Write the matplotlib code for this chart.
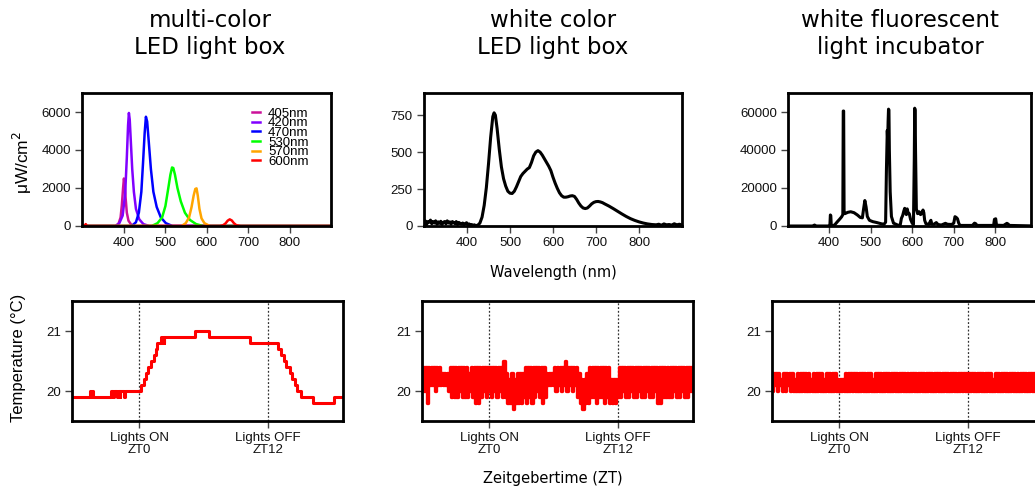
import numpy as np
import matplotlib.pyplot as plt

plt.rcParams['font.family'] = ['Liberation Sans', 'DejaVu Sans']

# ---- spectra (wavelength nm, intensity uW/cm2) ----
led_names = ["405nm", "420nm", "470nm", "530nm", "570nm", "600nm"]
led_colors = ["#CC1199", "#8000FF", "#0000FF", "#00FF00", "#FFA500", "#FF0000"]

led_wl = [
    [300, 380, 388, 393, 396, 399, 401, 403, 405, 408, 412, 418, 425, 900],
    [300, 382, 390, 398, 404, 408, 411, 413, 415, 418, 421, 425, 430, 438, 448, 462, 900],
    [300, 420, 430, 437, 443, 447, 451, 454, 457, 461, 466, 472, 480, 490, 502, 518, 900],
    [300, 468, 482, 493, 501, 508, 513, 517, 520, 524, 530, 538, 548, 560, 575, 592, 900],
    [300, 540, 550, 558, 564, 569, 573, 576, 579, 583, 588, 595, 608, 900],
    [300, 306, 309, 312, 632, 640, 646, 651, 656, 661, 666, 672, 682, 900],
]
led_val = [
    [0, 0, 120, 450, 1100, 2000, 2500, 2200, 1500, 700, 280, 90, 0, 0],
    [0, 0, 150, 550, 1700, 3600, 5300, 5950, 5600, 4300, 3000, 1800, 900, 350, 100, 0, 0],
    [0, 0, 200, 700, 1800, 3300, 4900, 5750, 5500, 4400, 3000, 1800, 1000, 450, 150, 0, 0],
    [0, 0, 150, 450, 1050, 2000, 2700, 3080, 3050, 2700, 2000, 1300, 700, 320, 100, 0, 0],
    [0, 0, 150, 450, 1000, 1600, 1950, 1980, 1600, 900, 400, 150, 0, 0],
    [0, 0, 100, 0, 0, 40, 140, 280, 350, 290, 150, 40, 0, 0],
]

white_wl = [300, 303, 306, 309, 312, 315, 318, 321, 324, 327, 330, 333, 336, 339, 342,
            345, 348, 351, 354, 357, 360, 363, 366, 369, 372, 375, 378, 381, 384, 387,
            390, 393, 396, 399, 402, 405, 408, 411, 414, 417, 420, 425, 430, 435, 440,
            445, 450, 455, 460, 463, 466, 470, 475, 480, 485, 490, 495, 500, 505, 510,
            515, 520, 525, 530, 535, 540, 545, 550, 555, 560, 565, 570, 575, 580, 585,
            590, 595, 600, 605, 610, 615, 620, 625, 630, 635, 640, 645, 650, 655, 660,
            665, 670, 675, 680, 685, 690, 695, 700, 705, 710, 715, 720, 730, 740, 750,
            760, 770, 780, 790, 800, 810, 820, 830, 840, 846, 852, 858, 864, 870, 876,
            882, 888, 894, 900]
white_val = [20, 35, 10, 30, 25, 40, 15, 30, 20, 35, 12, 28, 18, 32, 10,
             25, 30, 14, 35, 20, 28, 12, 30, 22, 16, 30, 10, 24, 18, 12,
             20, 8, 16, 22, 6, 14, 4, 10, 2, 8, 3, 5, 20, 60, 140,
             260, 420, 600, 740, 766, 750, 660, 520, 400, 320, 270, 235, 222, 220, 235,
             265, 300, 335, 355, 370, 385, 395, 430, 475, 500, 510, 500, 480, 455, 430,
             405, 375, 330, 290, 255, 225, 205, 195, 195, 198, 203, 205, 200, 180, 155,
             135, 122, 118, 122, 135, 150, 160, 165, 166, 163, 158, 150, 135, 118, 100,
             82, 65, 50, 38, 28, 20, 14, 10, 8, 12, 5, 14, 8, 10, 6,
             15, 8, 12, 6]

fluor_wl = [300, 360, 365, 368, 400, 402, 403, 404, 405, 406, 410, 415, 420, 425, 430,
            433, 434, 435, 436, 438, 445, 452, 460, 468, 475, 480, 483, 486, 489, 492,
            497, 505, 515, 525, 532, 536, 538, 540, 541, 542, 543, 544, 545, 547, 550,
            555, 565, 571, 574, 577, 580, 582, 584, 586, 588, 590, 593, 596, 600, 603,
            605, 606, 607, 608, 610, 613, 617, 620, 623, 626, 628, 630, 633, 640, 645,
            647, 652, 658, 662, 670, 680, 685, 695, 700, 703, 706, 709, 712, 715, 745,
            750, 753, 756, 770, 796, 798, 801, 803, 820, 828, 831, 834, 900]
fluor_val = [0, 0, 500, 0, 0, 1000, 5800, 5500, 1000, 0, 0, 1000, 2300, 3500, 4800,
             6000, 60500, 60500, 8000, 6500, 7200, 7500, 7000, 5800, 4500, 4300, 9000, 13400, 10000, 5000,
             3000, 2300, 1800, 1200, 900, 2000, 30000, 50300, 45000, 55000, 61500, 61000, 40000, 18000, 5000,
             1500, 500, 300, 4000, 5500, 8000, 9300, 7000, 6000, 9000, 7000, 6500, 3500, 1500, 800,
             35000, 62000, 61000, 40000, 9000, 6500, 7500, 6000, 6500, 8400, 7000, 3000, 1200, 900, 3000,
             1000, 900, 1800, 800, 500, 1400, 900, 800, 1500, 4900, 4500, 3800, 1500, 300, 300,
             1500, 1200, 300, 300, 300, 3500, 3800, 400, 300, 1400, 1000, 300, 0]

# ---- temperature (ZT hours, deg C) ----
box_t = [-6.25, -4.55, -4.45, -4.4, -4.25, -2.65, -2.4, -2.3, -2.1, -2.0, -1.8, -1.75,
         -1.4, -1.3, 0.2, 0.43, 0.62, 0.84, 1.15, 1.36, 1.55, 1.67, 2.08, 2.15, 2.2,
         2.3, 2.35, 5.18, 6.48, 10.29, 12.93, 13.24, 13.46, 13.71, 14.08, 14.26, 14.54,
         14.73, 15.1, 16.19, 18.14, 19.0]
box_temp = [19.9, 20.0, 19.9, 20.0, 19.9, 20.0, 19.9, 20.0, 19.9, 20.0, 19.9, 20.0,
            19.9, 20.0, 20.1, 20.2, 20.3, 20.4, 20.5, 20.6, 20.7, 20.8, 20.9, 20.8, 20.9,
            20.8, 20.9, 21.0, 20.9, 20.8, 20.7, 20.6, 20.5, 20.4, 20.3, 20.2, 20.1,
            20.0, 19.9, 19.8, 19.9, 19.9]

log_start = -6.25   # first logger reading (ZT h)
log_step = 0.125    # logger interval (h)
# readings in tenths of a degree
white_temp = [201, 204, 200, 204, 198, 204, 201, 204,
              201, 204, 200, 204, 201, 204, 201, 203,
              201, 203, 201, 203, 200, 204, 199, 204,
              199, 204, 199, 204, 200, 204, 199, 204,
              199, 204, 199, 203, 200, 204, 199, 204,
              198, 204, 198, 204, 199, 204, 200, 204,
              199, 204, 200, 204, 199, 204, 200, 204,
              199, 204, 200, 204, 199, 205, 199, 203,
              198, 202, 198, 203, 197, 202, 198, 203,
              198, 203, 198, 203, 199, 204, 198, 204,
              199, 204, 198, 204, 199, 204, 200, 204,
              199, 204, 198, 204, 199, 203, 201, 203,
              201, 203, 201, 204, 200, 204, 201, 204,
              200, 204, 201, 205, 200, 204, 201, 204,
              200, 204, 201, 204, 199, 203, 198, 202,
              197, 202, 198, 203, 198, 204, 199, 204,
              199, 204, 198, 204, 199, 204, 199, 204,
              198, 204, 199, 204, 198, 202, 198, 202,
              198, 202, 199, 204, 199, 204, 200, 204,
              199, 204, 199, 204, 200, 204, 199, 204,
              199, 204, 200, 204, 199, 204, 199, 204,
              200, 204, 199, 204, 199, 204, 200, 204,
              198, 204, 198, 204, 199, 204, 199, 204,
              199, 204, 199, 204, 200, 204, 199, 204,
              199, 204, 200, 204, 199, 204, 199, 204,
              200, 204, 200]
fluor_temp = [200, 203, 201, 203, 200, 203, 201, 202,
              200, 203, 200, 203, 201, 203, 200, 203,
              200, 202, 200, 203, 200, 203, 200, 203,
              200, 203, 200, 203, 200, 202, 200, 203,
              200, 203, 200, 203, 200, 203, 200, 202,
              200, 203, 200, 203, 200, 203, 200, 203,
              200, 202, 200, 202, 200, 202, 200, 203,
              200, 203, 200, 203, 200, 203, 200, 203,
              200, 203, 200, 203, 200, 203, 200, 203,
              200, 203, 200, 202, 200, 203, 200, 203,
              200, 203, 200, 203, 200, 203, 200, 203,
              200, 203, 200, 203, 200, 203, 200, 203,
              200, 203, 200, 203, 200, 203, 200, 203,
              200, 203, 200, 203, 200, 203, 200, 203,
              200, 203, 200, 203, 200, 203, 200, 203,
              200, 203, 200, 203, 200, 203, 200, 203,
              200, 203, 200, 203, 200, 203, 200, 203,
              200, 203, 200, 203, 200, 203, 200, 203,
              200, 203, 200, 203, 200, 203, 200, 203,
              200, 203, 200, 203, 200, 203, 200, 203,
              200, 203, 200, 203, 200, 202, 200, 203,
              200, 203, 200, 203, 200, 203, 200, 203,
              200, 203, 200, 203, 200, 203, 200, 203,
              200, 203, 200, 203, 200, 203, 200, 203,
              200, 203, 200, 203, 200, 203, 200, 203,
              200, 203, 200]

titles = ["multi-color\nLED light box", "white color\nLED light box",
          "white fluorescent\nlight incubator"]
zt_ticks = [0, 12]
zt_labels = ["Lights ON\nZT0", "Lights OFF\nZT12"]

W, H = 1035, 488
fig = plt.figure(figsize=(W / 100, H / 100), dpi=100)


def px_axes(x0, y0, x1, y1):
    return fig.add_axes([x0 / W, 1 - y1 / H, (x1 - x0) / W, (y1 - y0) / H])


def r_style(ax):
    for s in ax.spines.values():
        s.set_linewidth(2.0)
    ax.tick_params(direction='out', length=5, width=1, color='#444',
                   labelsize=9.5, pad=3, labelcolor='#111')


# top row: spectra
ax1 = px_axes(82, 93, 331, 226)
for wl, val, c, n in zip(led_wl, led_val, led_colors, led_names):
    ax1.plot(wl, val, color=c, lw=1.8, label=n, solid_joinstyle='round')
ax1.set_xlim(300, 900)
ax1.set_ylim(0, 7000)
ax1.set_yticks([0, 2000, 4000, 6000])
ax1.legend(loc='upper right', bbox_to_anchor=(0.91, 0.89), frameon=False,
           fontsize=9.5, handlelength=0.6, handletextpad=0.6, labelspacing=-0.2,
           borderpad=0, borderaxespad=0)

ax2 = px_axes(424, 93, 682, 226)
ax2.plot(white_wl, white_val, color='black', lw=2.2, solid_joinstyle='round')
ax2.set_xlim(300, 900)
ax2.set_ylim(0, 900)
ax2.set_yticks([0, 250, 500, 750])

ax3 = px_axes(788, 93, 1031, 226)
ax3.plot(fluor_wl, fluor_val, color='black', lw=2.2, solid_joinstyle='round')
ax3.set_xlim(301, 886)
ax3.set_ylim(0, 70000)
ax3.set_yticks([0, 20000, 40000, 60000])

for ax in (ax1, ax2, ax3):
    ax.set_xticks([400, 500, 600, 700, 800])
    r_style(ax)

# bottom row: temperature
ax4 = px_axes(72, 301, 343, 421)
ax4.plot(box_t, box_temp, color='red', lw=2.2, drawstyle='steps-post')

ax5 = px_axes(422, 301, 693, 421)
t5 = [log_start + log_step * i for i in range(len(white_temp))]
ax5.plot(t5, [v / 10 for v in white_temp], color='red', lw=2.4, drawstyle='steps-mid')

ax6 = px_axes(772, 301, 1043, 421)
t6 = [log_start + log_step * i for i in range(len(fluor_temp))]
ax6.plot(t6, [v / 10 for v in fluor_temp], color='red', lw=2.4, drawstyle='steps-mid')

for ax in (ax4, ax5, ax6):
    ax.set_xlim(-6.25, 19.0)
    ax.set_ylim(19.5, 21.5)
    ax.set_yticks([20, 21])
    ax.set_xticks(zt_ticks)
    ax.set_xticklabels(zt_labels, linespacing=1.0)
    for t in zt_ticks:
        ax.axvline(t, color='#333', lw=0.9, ls=(0, (1.5, 1.5)), zorder=0)
    r_style(ax)

# titles and labels
for x, t in zip([210, 553, 900], titles):
    fig.text(x / W, 1 - 34 / H, t, ha='center', va='center', fontsize=16.5,
             family='DejaVu Sans', linespacing=1.25)

fig.text(22 / W, 1 - 162 / H, "μW/cm$^2$", rotation=90, ha='center', va='center', fontsize=12.5)
fig.text(19 / W, 1 - 358 / H, "Temperature (°C)", rotation=90, ha='center', va='center', fontsize=12)
fig.text(553 / W, 1 - 272 / H, "Wavelength (nm)", ha='center', va='center', fontsize=10.5,
         family='DejaVu Sans')
fig.text(553 / W, 1 - 478 / H, "Zeitgebertime (ZT)", ha='center', va='center', fontsize=10.5,
         family='DejaVu Sans')

fig.savefig("out.png", dpi=100)
